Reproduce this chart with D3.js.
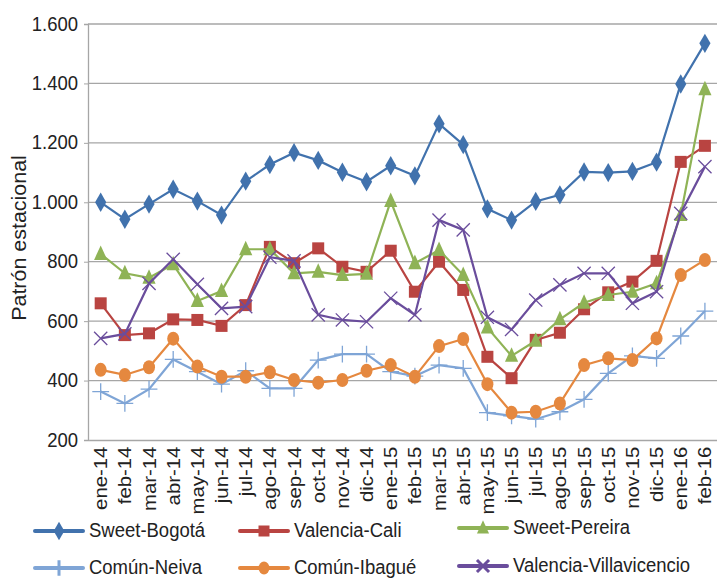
<!DOCTYPE html>
<html lang="es">
<head>
<meta charset="UTF-8">
<title>Patrón estacional</title>
<style>
  body { margin: 0; padding: 0; background: #fff; font-family: "Liberation Sans", Arial, sans-serif; }
  .grid line { stroke: #a6a6a6; stroke-width: 1.3; }
  .tick text { fill: #222; }
</style>
</head>
<body>
<svg id="chart" width="717" height="579"></svg>
<script src="https://d3js.org/d3.v7.min.js"></script>
<script>
// data
var months = ["ene-14","feb-14","mar-14","abr-14","may-14","jun-14","jul-14","ago-14","sep-14","oct-14","nov-14","dic-14",
              "ene-15","feb-15","mar-15","abr-15","may-15","jun-15","jul-15","ago-15","sep-15","oct-15","nov-15","dic-15",
              "ene-16","feb-16"];
var yTicks = [200, 400, 600, 800, 1000, 1200, 1400, 1600];

var sweetBogota = [1000, 943, 994, 1044, 1004, 957, 1071, 1127, 1167, 1141, 1101, 1069,
                   1123, 1089, 1264, 1194, 978, 940, 1003, 1025, 1102, 1100, 1104, 1135, 1398, 1535];
var valenciaCali = [660, 553, 559, 606, 604, 584, 654, 850, 795, 845, 783, 766,
                    837, 699, 800, 705, 480, 408, 537, 561, 640, 697, 733, 803, 1136, 1190];
var sweetPereira = [826, 761, 746, 791, 668, 701, 842, 842, 761, 766, 755, 759,
                    1004, 795, 839, 755, 578, 483, 534, 606, 662, 688, 699, 727, 957, 1380];
var comunNeiva = [363, 323, 371, 471, 430, 388, 433, 374, 374, 469, 489, 489,
                  430, 415, 452, 441, 292, 281, 270, 295, 337, 424, 483, 475, 550, 634];
var comunIbague = [436, 419, 445, 541, 447, 413, 413, 428, 402, 393, 402, 433,
                   452, 413, 516, 540, 388, 292, 295, 323, 452, 475, 469, 542, 755, 806];
var valenciaVillavicencio = [542, 557, 727, 808, 724, 643, 649, 815, 803, 621, 604, 598,
                             677, 621, 940, 907, 613, 572, 671, 722, 761, 761, 660, 699, 963, 1120];

var seriesNames = ["Sweet-Bogotá", "Valencia-Cali", "Sweet-Pereira", "Común-Neiva", "Común-Ibagué", "Valencia-Villavicencio"];
var seriesValues = [sweetBogota, valenciaCali, sweetPereira, comunNeiva, comunIbague, valenciaVillavicencio];
var colors = ["#4172ad", "#b94441", "#8fb356", "#7fa5d6", "#e5883f", "#6a4d9c"];
var shapes = ["diamond", "square", "triangle", "plus", "circle", "cross"];

var margin = { top: 24, right: 0, bottom: 139, left: 88 };
var width = 717 - margin.left - margin.right;
var height = 579 - margin.top - margin.bottom;
var stretch = "scale(1,1.1)"; // the source text is a bit taller than wide

var svg = d3.select("#chart");
var g = svg.append("g").attr("transform", "translate(" + margin.left + "," + margin.top + ")");

var x = d3.scaleBand().domain(months).range([0.6, width]).padding(0);
var y = d3.scaleLinear().domain([200, 1600]).range([height, 0]);
var cx = function (i) { return x(months[i]) + x.bandwidth() / 2; };

// grid
g.append("g").attr("class", "grid")
  .selectAll("line").data(yTicks.slice(1)).enter().append("line")
  .attr("x1", 0).attr("x2", width)
  .attr("y1", function (d) { return y(d); }).attr("y2", function (d) { return y(d); });

// axes
var yAxis = d3.axisLeft(y).tickValues(yTicks).tickSize(4).tickPadding(6)
  .tickFormat(function (d) { return d3.format(",")(d).replace(",", "."); });
var ya = g.append("g").call(yAxis);
ya.select(".domain").attr("stroke", "#a6a6a6").attr("stroke-width", 1.3);
ya.selectAll(".tick line").attr("stroke", "#a6a6a6");
ya.selectAll(".tick text").attr("font-size", "18.5px").attr("font-family", "Liberation Sans, Arial, sans-serif")
  .attr("transform", stretch).attr("dy", "0.3em");

var xAxis = d3.axisBottom(x).tickSize(0).tickSizeOuter(0);
var xa = g.append("g").attr("transform", "translate(0," + height + ")").call(xAxis);
xa.select(".domain").attr("stroke", "#a6a6a6").attr("stroke-width", 1.3);
xa.selectAll(".tick text")
  .attr("font-size", "18.5px").attr("font-family", "Liberation Sans, Arial, sans-serif")
  .attr("transform", stretch + " rotate(-90)")
  .attr("text-anchor", "end")
  .attr("x", -6).attr("y", 0).attr("dy", "0.35em");

// y title
svg.append("text")
  .attr("transform", "translate(26," + (margin.top + height / 2 + 6) + ") " + stretch + " rotate(-90)")
  .attr("text-anchor", "middle")
  .attr("font-size", "19.5px")
  .attr("fill", "#222")
  .text("Patrón estacional");

// marker drawing
function drawMarker(sel, shape, color, size) {
  if (shape === "diamond") {
    sel.append("path").attr("d", d3.symbol(d3.symbolDiamond, size * 9)()).attr("fill", color);
  } else if (shape === "square") {
    sel.append("rect").attr("x", -size / 2).attr("y", -size / 2).attr("width", size).attr("height", size).attr("fill", color);
  } else if (shape === "triangle") {
    var s = size * 1.1;
    sel.append("path").attr("d", "M0," + (-s * 0.65) + "L" + (s / 2) + "," + (s * 0.45) + "L" + (-s / 2) + "," + (s * 0.45) + "Z").attr("fill", color);
  } else if (shape === "circle") {
    sel.append("ellipse").attr("rx", size / 2).attr("ry", size / 2 + 1).attr("fill", color);
  } else if (shape === "plus") {
    var h = size * 0.7;
    sel.append("path").attr("d", "M" + (-h) + ",0H" + h + "M0," + (-h) + "V" + h)
      .attr("stroke", color).attr("stroke-width", 1.3).attr("fill", "none");
  } else if (shape === "cross") {
    var c = size * 0.55;
    sel.append("path").attr("d", "M" + (-c) + "," + (-c) + "L" + c + "," + c + "M" + (-c) + "," + c + "L" + c + "," + (-c))
      .attr("stroke", color).attr("stroke-width", 1.3).attr("fill", "none");
  }
}

var line = d3.line()
  .x(function (d, i) { return cx(i); })
  .y(function (d) { return y(d); });

seriesValues.forEach(function (vals, k) {
  var sg = g.append("g");
  sg.append("path").datum(vals)
    .attr("d", line)
    .attr("fill", "none")
    .attr("stroke", colors[k])
    .attr("stroke-width", 2.2);
  sg.selectAll("g.pt").data(vals).enter().append("g")
    .attr("class", "pt")
    .attr("transform", function (d, i) { return "translate(" + cx(i) + "," + y(d) + ")"; })
    .each(function () { drawMarker(d3.select(this), shapes[k], colors[k], 12); });
});

// legend
var legendPos = [[35, 531], [240, 531], [459, 528], [35, 568], [240, 568], [459, 566]];
seriesNames.forEach(function (name, k) {
  var lg = svg.append("g").attr("transform", "translate(" + legendPos[k][0] + "," + legendPos[k][1] + ")");
  lg.append("line").attr("x1", 0).attr("x2", 48).attr("y1", 0).attr("y2", 0)
    .attr("stroke", colors[k]).attr("stroke-width", 4).attr("stroke-linecap", "round");
  var m = lg.append("g").attr("transform", "translate(24,0)");
  drawMarker(m, shapes[k], colors[k], 11);
  m.selectAll("path[stroke]").attr("stroke-width", 3);
  lg.append("text").attr("x", 54).attr("y", 0).attr("dy", "0.3em")
    .attr("transform", stretch)
    .attr("font-size", "18.5px").attr("fill", "#222").text(name);
});
</script>
</body>
</html>
